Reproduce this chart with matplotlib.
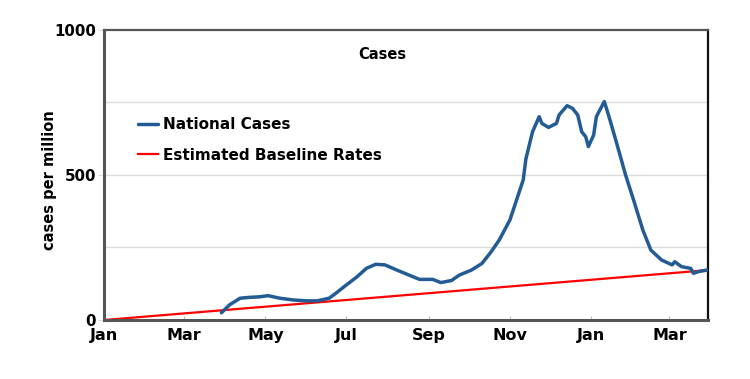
import matplotlib
matplotlib.use("Agg")
import matplotlib.pyplot as plt
import matplotlib.dates as mdates
import numpy as np

# national cases per million
case_dates = ["2020-03-29", "2020-04-04", "2020-04-12", "2020-04-19", "2020-04-27",
              "2020-05-03", "2020-05-12", "2020-05-22", "2020-06-01", "2020-06-09",
              "2020-06-18", "2020-06-23", "2020-07-01", "2020-07-09", "2020-07-16",
              "2020-07-23", "2020-07-30", "2020-08-08", "2020-08-17", "2020-08-25",
              "2020-09-04", "2020-09-10", "2020-09-18", "2020-09-24", "2020-10-03",
              "2020-10-11", "2020-10-18", "2020-10-24", "2020-11-01", "2020-11-06",
              "2020-11-11", "2020-11-13", "2020-11-18", "2020-11-23", "2020-11-25",
              "2020-11-30", "2020-12-06", "2020-12-08", "2020-12-14", "2020-12-18",
              "2020-12-22", "2020-12-25", "2020-12-28", "2020-12-30", "2021-01-03",
              "2021-01-05", "2021-01-09", "2021-01-11", "2021-01-13", "2021-01-16",
              "2021-01-21", "2021-01-27", "2021-02-02", "2021-02-09", "2021-02-15",
              "2021-02-23", "2021-03-03", "2021-03-05", "2021-03-10", "2021-03-17",
              "2021-03-19", "2021-03-23", "2021-03-29"]
case_values = [25, 52, 75, 78, 80,
               84, 75, 69, 66, 66,
               75, 92, 121, 149, 178,
               192, 190, 172, 155, 140,
               140, 129, 136, 155, 172,
               195, 236, 276, 345, 414,
               483, 555, 649, 701, 678,
               664, 678, 707, 739, 730,
               707, 649, 632, 598, 638,
               701, 736, 753, 724, 678,
               598, 500, 414, 310, 241,
               207, 190, 201, 184, 178,
               161, 167, 172]

# estimated baseline
base_dates = ["2020-01-01", "2021-03-30"]
base_values = [0, 172]

month_ticks = ["2020-01-01", "2020-03-01", "2020-05-01", "2020-07-01", "2020-09-01",
               "2020-11-01", "2021-01-01", "2021-03-01"]
y_ticks = [0, 500, 1000]
y_grid = [250, 500, 750]

plt.rcParams['font.family'] = ['DejaVu Sans']
plt.rcParams['font.weight'] = 'bold'

fig = plt.figure(figsize=(7.5, 3.79), dpi=100)
ax = fig.add_axes([0.1393, 0.1557, 0.8047, 0.7652])

cd = np.array(case_dates, dtype="datetime64[D]")
bd = np.array(base_dates, dtype="datetime64[D]")

for g in y_grid:
    ax.axhline(g, color="#dcdcdc", lw=1.0, zorder=0)

ax.plot(cd, case_values, color="#235b94", lw=2.5, label="National Cases",
        solid_joinstyle="round", solid_capstyle="round", zorder=3)
ax.plot(bd, base_values, color="#ff0000", lw=1.6, label="Estimated Baseline Rates", zorder=2)

ax.set_xlim(np.datetime64("2020-01-01"), np.datetime64("2021-03-30"))
ax.set_ylim(0, 1000)

ax.set_xticks(np.array(month_ticks, dtype="datetime64[D]"))
ax.xaxis.set_major_formatter(mdates.DateFormatter("%b"))
ax.set_yticks(y_ticks)
ax.tick_params(axis="x", direction="in", length=3, color="#bbbbbb", labelsize=11.5, pad=6)
ax.tick_params(axis="y", direction="out", length=4, color="#dcdcdc", labelsize=10.8, pad=2)
for lab in ax.get_xticklabels() + ax.get_yticklabels():
    lab.set_fontweight("bold")

ax.spines["left"].set_color("#555555")
ax.spines["left"].set_linewidth(2.2)
ax.spines["bottom"].set_color("#555555")
ax.spines["bottom"].set_linewidth(2.2)
ax.spines["top"].set_color("#555555")
ax.spines["top"].set_linewidth(1.6)
ax.spines["right"].set_color("#111111")
ax.spines["right"].set_linewidth(1.6)

ax.set_ylabel("cases per million", fontsize=10.5, fontweight="bold")
ax.yaxis.set_label_coords(-0.078, 0.481)
ax.text(0.46, 0.915, "Cases", transform=ax.transAxes, ha="center", va="center",
        fontsize=10.5, fontweight="bold")

leg = ax.legend(loc="upper left", bbox_to_anchor=(0.045, 0.72), frameon=False,
                fontsize=11, handlelength=1.35, handletextpad=0.3, labelspacing=1.0,
                borderaxespad=0)
for t in leg.get_texts():
    t.set_fontweight("bold")

fig.savefig("out.png", dpi=100)
